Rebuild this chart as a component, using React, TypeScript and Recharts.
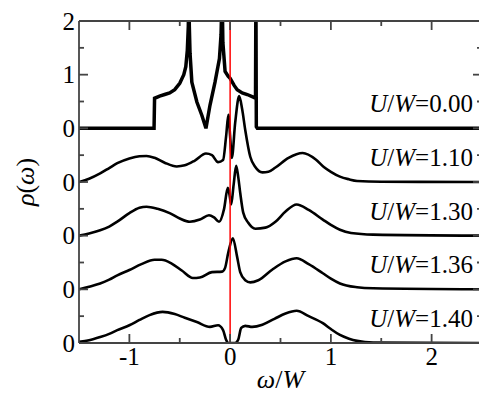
import React from "react";
import {
  LineChart,
  Line,
  XAxis,
  YAxis,
  ReferenceLine,
  ReferenceDot,
  Label,
} from "recharts";

// spectral functions, [omega/W, rho]
const u000 = [
  [-1.5, 0], [-0.755, 0], [-0.75, 0.56], [-0.7, 0.6], [-0.65, 0.63], [-0.6, 0.66],
  [-0.55, 0.72], [-0.5, 0.84], [-0.46, 1.0], [-0.44, 1.15], [-0.425, 1.45], [-0.415, 1.9],
  [-0.41, 2.6], [-0.405, 1.9], [-0.398, 1.4], [-0.38, 0.86], [-0.33, 0.49], [-0.28, 0.24],
  [-0.24, 0.0], [-0.2, 0.43], [-0.15, 0.86], [-0.106, 1.3], [-0.09, 1.75], [-0.08, 2.6],
  [-0.072, 1.6], [-0.05, 1.06], [-0.02, 0.97], [0, 0.93], [0.04, 0.8], [0.07, 0.72],
  [0.12, 0.66], [0.17, 0.63], [0.23, 0.58], [0.252, 0.56], [0.256, 2.6], [0.26, 0.03],
  [0.27, 0], [2.5, 0],
];
const u110 = [
  [-1.5, 0], [-1.4, 0.06], [-1.29, 0.16], [-1.2, 0.26], [-1.12, 0.35], [-1.0, 0.44],
  [-0.9, 0.48], [-0.83, 0.485], [-0.75, 0.45], [-0.65, 0.36], [-0.53, 0.29], [-0.45, 0.31],
  [-0.35, 0.4], [-0.24, 0.53], [-0.18, 0.5], [-0.12, 0.37], [-0.07, 0.41], [-0.04, 0.85],
  [-0.017, 1.25], [0.0, 0.85], [0.017, 0.45], [0.05, 1.1], [0.09, 1.6], [0.12, 1.35],
  [0.15, 0.97], [0.2, 0.47], [0.25, 0.28], [0.32, 0.18], [0.38, 0.19], [0.45, 0.27],
  [0.58, 0.45], [0.72, 0.54], [0.85, 0.42], [0.93, 0.28], [1.0, 0.19], [1.09, 0.1],
  [1.18, 0.05], [1.26, 0.02], [1.5, 0.005], [2.5, 0],
];
const u130 = [
  [-1.5, 0], [-1.4, 0.04], [-1.29, 0.1], [-1.2, 0.17], [-1.12, 0.26], [-1.0, 0.42],
  [-0.9, 0.52], [-0.83, 0.54], [-0.72, 0.5], [-0.6, 0.42], [-0.5, 0.32], [-0.4, 0.26],
  [-0.3, 0.3], [-0.21, 0.38], [-0.16, 0.34], [-0.11, 0.26], [-0.06, 0.5], [-0.023, 0.89],
  [-0.005, 0.75], [0.01, 0.58], [0.035, 0.95], [0.06, 1.3], [0.08, 1.1], [0.1, 0.8],
  [0.13, 0.43], [0.18, 0.24], [0.25, 0.13], [0.35, 0.15], [0.45, 0.26], [0.55, 0.45],
  [0.66, 0.58], [0.78, 0.48], [0.92, 0.3], [1.0, 0.2], [1.09, 0.11], [1.2, 0.05],
  [1.42, 0.02], [2.5, 0],
];
const u136 = [
  [-1.5, 0], [-1.4, 0.05], [-1.29, 0.11], [-1.2, 0.18], [-1.12, 0.26], [-1.0, 0.36],
  [-0.88, 0.47], [-0.75, 0.55], [-0.68, 0.55], [-0.58, 0.48], [-0.48, 0.35], [-0.37, 0.21],
  [-0.3, 0.22], [-0.18, 0.32], [-0.08, 0.33], [-0.05, 0.4], [-0.02, 0.67], [0.027, 0.95],
  [0.07, 0.6], [0.1, 0.32], [0.15, 0.17], [0.2, 0.13], [0.28, 0.17], [0.42, 0.37],
  [0.55, 0.52], [0.66, 0.58], [0.78, 0.47], [0.92, 0.3], [1.0, 0.2], [1.09, 0.11],
  [1.26, 0.04], [1.42, 0.02], [2.5, 0],
];
const u140 = [
  [-1.5, 0.02], [-1.4, 0.05], [-1.29, 0.11], [-1.2, 0.17], [-1.12, 0.24], [-1.0, 0.33],
  [-0.9, 0.43], [-0.8, 0.52], [-0.67, 0.58], [-0.55, 0.54], [-0.45, 0.47], [-0.33, 0.39],
  [-0.2, 0.3], [-0.12, 0.33], [-0.07, 0.24], [-0.04, 0.06], [-0.02, 0], [0.05, 0],
  [0.08, 0.06], [0.11, 0.28], [0.15, 0.32], [0.22, 0.3], [0.32, 0.34], [0.44, 0.45],
  [0.55, 0.55], [0.66, 0.6], [0.78, 0.5], [0.92, 0.37], [1.0, 0.26], [1.09, 0.15],
  [1.18, 0.08], [1.26, 0.04], [1.42, 0.01], [2.5, 0],
];

const curves = [u000, u110, u130, u136, u140];
const offsets = [4, 3, 2, 1, 0];
const uValues = ["0.00", "1.10", "1.30", "1.36", "1.40"];

const xTicks = [-1, -0.5, 0, 0.5, 1, 1.5, 2];
const xTickLabels = [-1, 0, 1, 2];
const yTicks = [0, 0.5, 1, 1.5, 2, 2.5, 3, 3.5, 4, 4.5, 5, 5.5, 6];

const FONT = "Liberation Serif";
const AX = "#444444";
const PLOT_TOP = 21;
const PLOT_RIGHT = 482;

const isMajor = (v: number) => Math.abs(v - Math.round(v)) < 1e-6;
const yLabel = (v: number) => (v >= 4 ? String(Math.round(v - 4)) : "0");

// ticks point inward, mirrored on the opposite edge of the frame
const LeftTick = (props: any) => {
  const { x, y, payload } = props;
  const v = payload.value;
  const ax = x + 4;
  const len = isMajor(v) ? 9 : 5;
  return (
    <g>
      <line x1={ax} x2={ax + len} y1={y} y2={y} stroke={AX} strokeWidth={1.8} />
      <line x1={PLOT_RIGHT} x2={PLOT_RIGHT - len} y1={y} y2={y} stroke={AX} strokeWidth={1.8} />
      {isMajor(v) && (
        <text x={x} y={y + 8.5} textAnchor="end" fontFamily={FONT} fontSize={25} fill="#000">
          {yLabel(v)}
        </text>
      )}
    </g>
  );
};

const BottomTick = (props: any) => {
  const { x, y, payload } = props;
  const v = payload.value;
  const ay = y - 4;
  const len = isMajor(v) ? 9 : 5;
  return (
    <g>
      <line x1={x} x2={x} y1={ay} y2={ay - len} stroke={AX} strokeWidth={1.8} />
      <line x1={x} x2={x} y1={PLOT_TOP} y2={PLOT_TOP + len} stroke={AX} strokeWidth={1.8} />
      {xTickLabels.includes(v) && (
        <text x={x} y={ay + 22} textAnchor="middle" fontFamily={FONT} fontSize={25} fill="#000">
          {String(v)}
        </text>
      )}
    </g>
  );
};

const XTitle = (props: any) => {
  const vb = props.viewBox;
  return (
    <text x={vb.x + vb.width / 2} y={vb.y + 45} textAnchor="middle" fontFamily={FONT} fontSize={26} fill="#000">
      <tspan fontStyle="italic">ω</tspan>/<tspan fontStyle="italic">W</tspan>
    </text>
  );
};

const YTitle = (props: any) => {
  const vb = props.viewBox;
  const cx = vb.x + 34;
  const cy = vb.y + vb.height / 2;
  return (
    <text
      x={cx}
      y={cy}
      textAnchor="middle"
      transform={`rotate(-90, ${cx}, ${cy})`}
      fontFamily={FONT}
      fontSize={26}
      fill="#000"
    >
      <tspan fontStyle="italic">ρ</tspan>(<tspan fontStyle="italic">ω</tspan>)
    </text>
  );
};

const uTag = (val: string) => (props: any) => {
  const vb = props.viewBox;
  const cx = vb.x + (vb.width || 0) / 2;
  const cy = vb.y + (vb.height || 0) / 2;
  return (
    <text x={cx} y={cy} textAnchor="end" fontFamily={FONT} fontSize={25} fill="#000">
      <tspan fontStyle="italic">U</tspan>/<tspan fontStyle="italic">W</tspan>={val}
    </text>
  );
};

const series = curves.map((pts, i) =>
  pts.map(([w, r]) => ({ w, v: r + offsets[i] }))
);

export default function App() {
  return (
    <div
      style={{
        position: "absolute",
        left: 0,
        top: 0,
        width: 479,
        height: 393,
        overflow: "hidden",
        background: "#fff",
      }}
    >
      <LineChart width={490} height={393} margin={{ top: PLOT_TOP, right: 490 - PLOT_RIGHT, bottom: 0, left: 0 }}>
        <XAxis
          type="number"
          dataKey="w"
          domain={[-1.5, 2.5]}
          ticks={xTicks}
          interval={0}
          allowDataOverflow
          height={50}
          tickSize={0}
          tickMargin={4}
          tick={<BottomTick />}
          axisLine={{ stroke: AX, strokeWidth: 1.8 }}
        >
          <Label content={<XTitle />} />
        </XAxis>
        <YAxis
          type="number"
          domain={[0, 6]}
          ticks={yTicks}
          interval={0}
          allowDataOverflow
          width={79}
          tickSize={0}
          tickMargin={4}
          tick={<LeftTick />}
          axisLine={{ stroke: AX, strokeWidth: 1.8 }}
        >
          <Label content={<YTitle />} />
        </YAxis>
        {series.map((d, i) => (
          <Line
            key={uValues[i]}
            data={d}
            dataKey="v"
            type={i === 0 ? "linear" : "monotone"}
            stroke="#000"
            strokeWidth={i === 0 ? 3.5 : 2.6}
            dot={false}
            activeDot={false}
            isAnimationActive={false}
          />
        ))}
        <ReferenceLine y={6} stroke={AX} strokeWidth={1.8} />
        <ReferenceLine x={0} stroke="#ff0000" strokeWidth={1.5} />
        {uValues.map((u, i) => (
          <ReferenceDot
            key={"lab" + u}
            x={2.41}
            y={offsets[i] + 0.3}
            r={1}
            fill="none"
            stroke="none"
            label={{ content: uTag(u) }}
          />
        ))}
      </LineChart>
    </div>
  );
}
